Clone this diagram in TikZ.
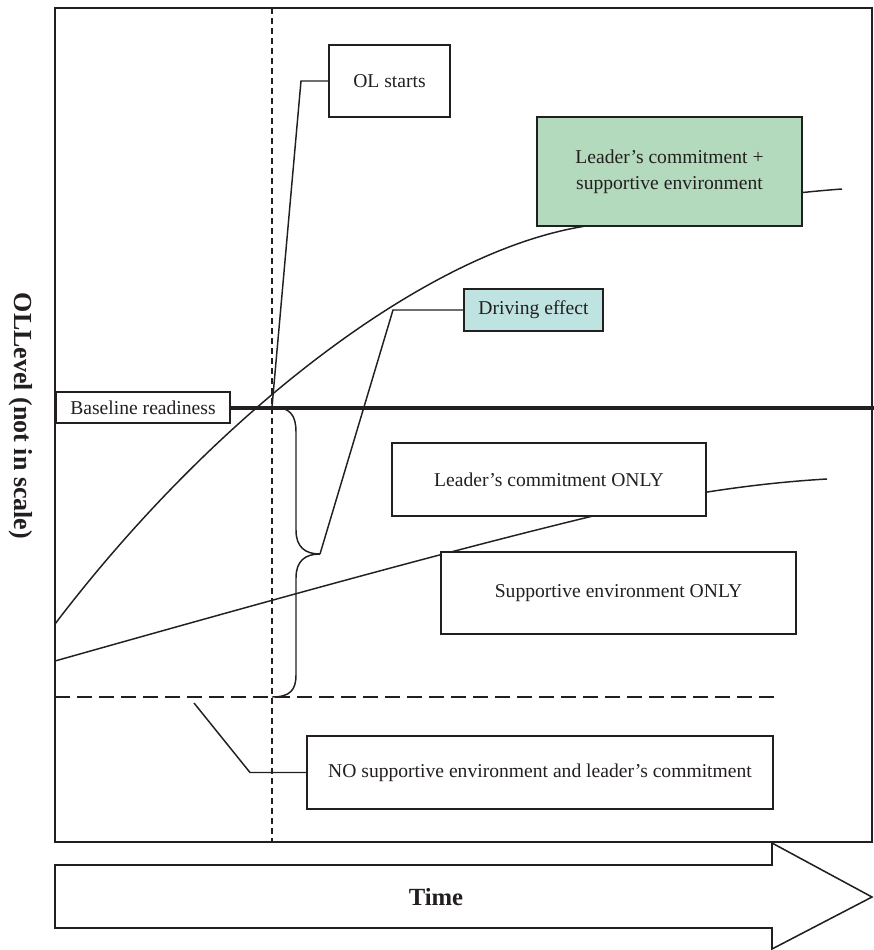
\documentclass[tikz,border=0pt]{standalone}
\usepackage{fontspec}
\setmainfont{Liberation Serif}
\definecolor{ink}{HTML}{231F20}
\definecolor{lcgreen}{HTML}{B3DABD}
\definecolor{drivecyan}{HTML}{BEE3E0}
\tikzset{
  ink line/.style={draw=ink, line width=1.1pt},
  labelbox/.style={draw=ink, line width=1.15pt, fill=white, inner sep=0pt,
    outer sep=0pt, align=center, text=ink,
    font=\fontsize{14.7}{19.5}\selectfont},
}
\begin{document}
\begin{tikzpicture}[x=0.75pt,y=-0.75pt]
\useasboundingbox (0,0) rectangle (874,950);

% plot frame
\draw[ink, line width=1.2pt] (55,8) rectangle (872,842);
% moment when OL starts
\draw[ink, line width=0.85pt, dash pattern=on 4.5pt off 3pt] (272,8) -- (272,842);
% level without support and commitment
\draw[ink, line width=1.05pt, dash pattern=on 11pt off 5.5pt] (55,697) -- (775,697);

% growth curve: commitment + supportive environment
\draw[ink line] (55,624) .. controls (210,420) and (420,255) .. (580,227)
  .. controls (680,209.5) and (760,195) .. (842,189);
% growth curve: one factor only
\draw[ink line] (55,661) .. controls (250,606) and (440,553) .. (593,516)
  .. controls (650,500) and (740,484) .. (827,479);

% brace spanning the gap above the floor
\coordinate (bracetop) at (272,407);
\coordinate (bracetip) at (320,554);
\coordinate (bracebot) at (272,697);
\draw[ink line] (bracetop) .. controls (290,407) and (296,415) .. (296,432)
  -- (296,530) .. controls (296,547) and (305,554) .. (bracetip)
  .. controls (305,554) and (296,561) .. (296,578)
  -- (296,675) .. controls (296,690) and (290,697) .. (bracebot);

% labels
\node[labelbox, minimum width=90.75pt, minimum height=54pt] (olstarts) at (389.5,81) {OL starts};
\node[labelbox, fill=lcgreen, minimum width=198.75pt, minimum height=81.75pt] (bothbox) at (669.5,171.5) {Leader’s commitment +\\supportive environment};
\node[labelbox, fill=drivecyan, minimum width=104.25pt, minimum height=31.5pt] (driving) at (533.5,310) {Driving effect};
\node[labelbox, minimum width=130.5pt, minimum height=23.25pt] (baseline) at (143,407.5) {Baseline readiness};
\node[labelbox, minimum width=235.5pt, minimum height=54.75pt] (leaderonly) at (549,479.5) {Leader’s commitment ONLY};
\node[labelbox, minimum width=266.25pt, minimum height=61.5pt] (supportonly) at (618.5,593) {Supportive environment ONLY};
\node[labelbox, minimum width=349.5pt, minimum height=54.75pt] (nobox) at (540,772.5) {NO supportive environment and leader’s commitment};

% baseline readiness level
\draw[ink, line width=3pt] (baseline.east) -- (874,407.5);

% callout leaders
\coordinate (floorpt) at (194,703);
\draw[ink line] (olstarts.west) -- ++(-28,0) -- (bracetop);
\draw[ink line] (driving.west) -- ++(-71,0) -- (bracetip);
\draw[ink line] (nobox.west) -- ++(-57,0) -- (floorpt);

% time axis arrow
\draw[ink, line width=1.15pt, fill=white] (55,865) -- (772,865) -- (772,843)
  -- (872,897) -- (772,949) -- (772,928) -- (55,928) -- cycle;
\node[font=\bfseries\fontsize{18.5}{22}\selectfont, text=ink] (timelabel) at (436,897) {Time};

% vertical axis title
\node[rotate=-90, font=\bfseries\fontsize{19.5}{23}\selectfont, text=ink] (ylabel) at (21,416) {OLLevel (not in scale)};
\end{tikzpicture}
\end{document}
